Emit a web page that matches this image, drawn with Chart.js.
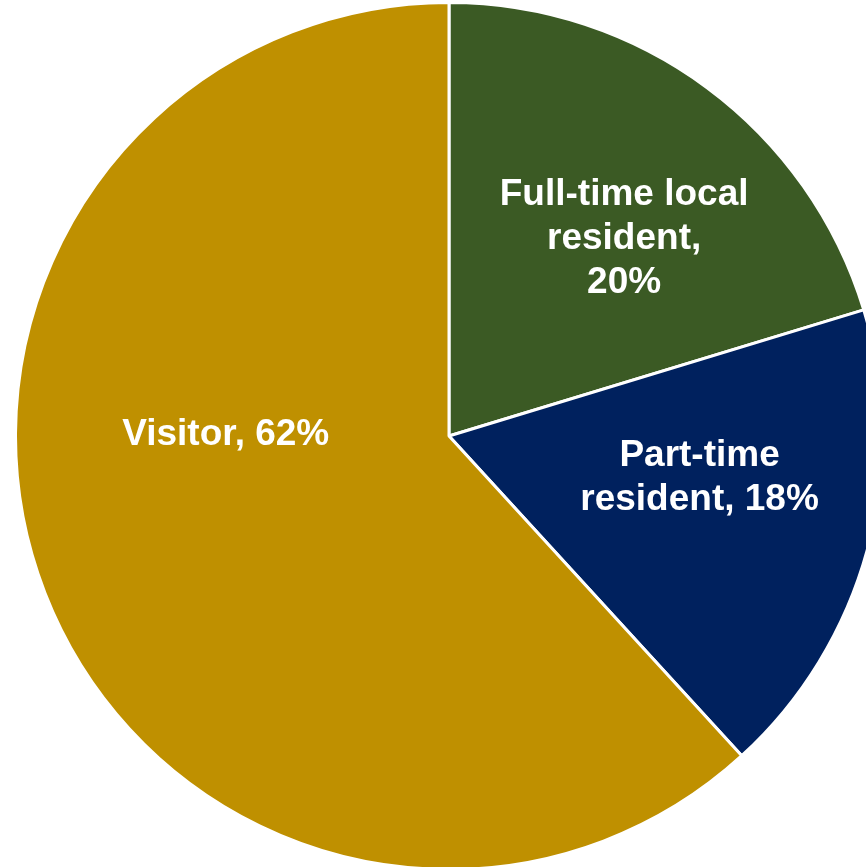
<!DOCTYPE html>
<html lang="en">
<head>
  <meta charset="UTF-8">
  <title>Resident type</title>
  <script src="https://cdn.jsdelivr.net/npm/chart.js"></script>
  <style>
    * {
      margin: 0;
      padding: 0;
      box-sizing: border-box;
    }

    body {
      background-color: #ffffff;
      overflow: hidden;
      width: 866px;
      height: 867px;
    }

    .chart-box {
      width: 900px;
      height: 871px;
    }
  </style>
</head>
<body>
  <div class="chart-box">
    <canvas id="pie-chart" width="900" height="871"></canvas>
  </div>

  <script>
    const categories = ['Full-time local resident', 'Part-time resident', 'Visitor'];
    const shares = [20.3, 17.9, 61.8];
    const labelLines = [
      ['Full-time local', 'resident,', '20%'],
      ['Part-time', 'resident, 18%'],
      ['Visitor, 62%']
    ];
    const sliceColors = ['#3b5a24', '#00215e', '#bf9000'];

    // where each label sits, as a fraction of the radius from the centre
    const labelSpots = [
      { dx: 0.404, dy: -0.456 },
      { dx: 0.578, dy: 0.096 },
      { dx: -0.515, dy: -0.003 }
    ];

    const sliceLabels = {
      id: 'sliceLabels',
      afterDatasetsDraw(chart) {
        const ctx = chart.ctx;
        const arcs = chart.getDatasetMeta(0).data;
        ctx.save();
        ctx.fillStyle = '#ffffff';
        ctx.font = 'bold 37px "Liberation Sans", Arial, sans-serif';
        ctx.textAlign = 'center';
        ctx.textBaseline = 'middle';
        arcs.forEach((arc, i) => {
          const r = arc.outerRadius;
          const x = arc.x + labelSpots[i].dx * r;
          const y = arc.y + labelSpots[i].dy * r;
          const lines = labelLines[i];
          const lh = 44;
          lines.forEach((line, j) => {
            ctx.fillText(line, x, y + (j - (lines.length - 1) / 2) * lh);
          });
        });
        ctx.restore();
      }
    };

    new Chart(document.getElementById('pie-chart'), {
      type: 'pie',
      data: {
        labels: categories,
        datasets: [{
          data: shares,
          backgroundColor: sliceColors,
          borderColor: '#ffffff',
          borderWidth: 3
        }]
      },
      options: {
        responsive: false,
        animation: false,
        layout: { padding: { left: 14, top: 1, right: 16, bottom: 0 } },
        plugins: {
          legend: { display: false },
          tooltip: { enabled: false }
        }
      },
      plugins: [sliceLabels]
    });
  </script>
</body>
</html>
